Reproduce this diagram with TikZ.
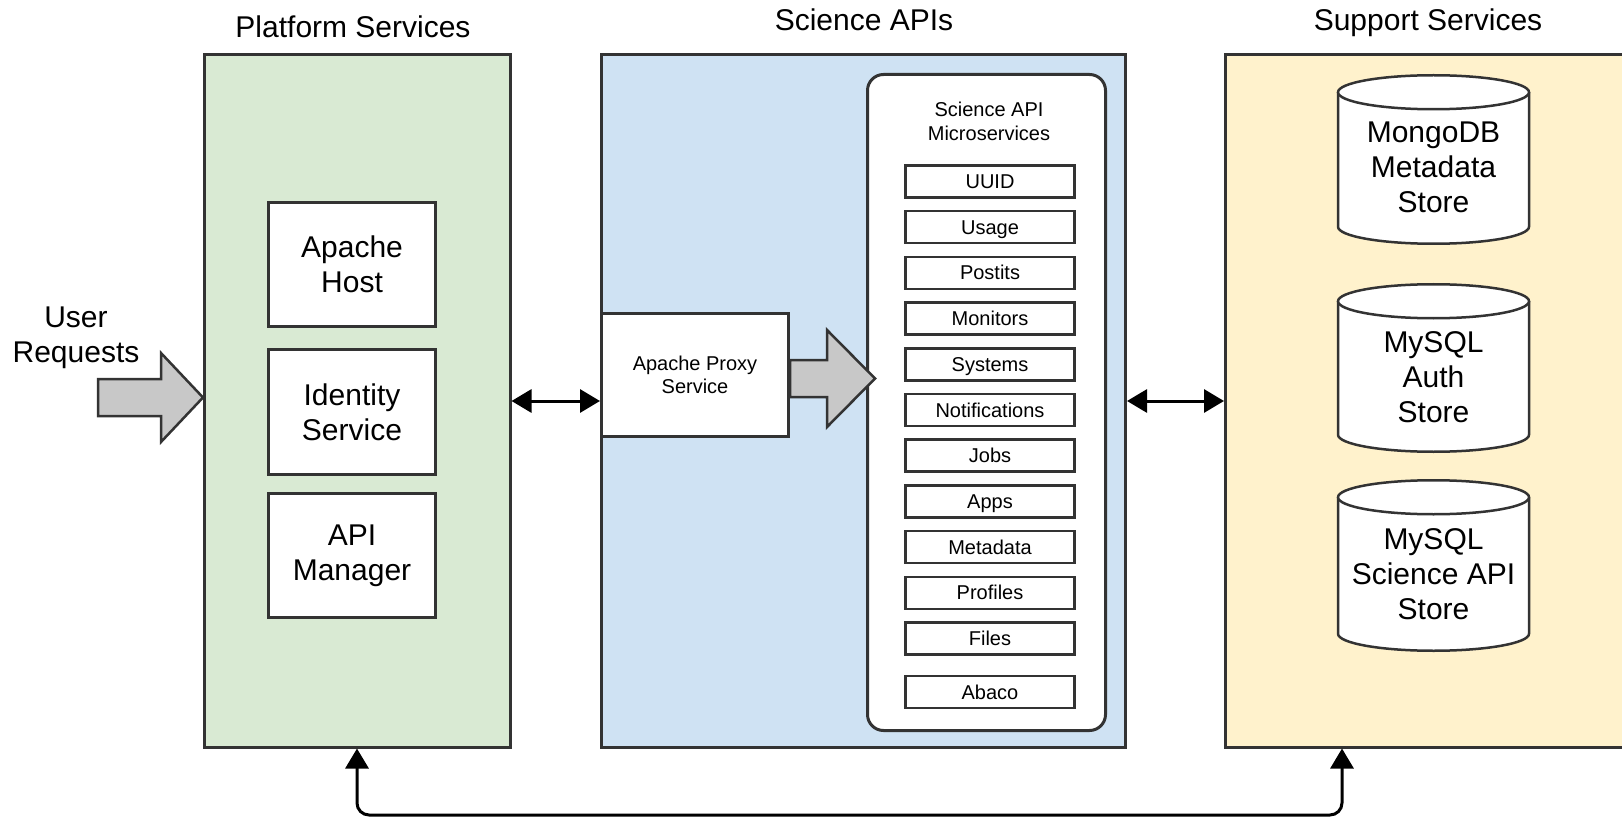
\documentclass[tikz,border=0pt]{standalone}
\usepackage{fontspec}
\setmainfont{Liberation Sans}
\usetikzlibrary{arrows.meta}
\definecolor{bd}{HTML}{333333}
\definecolor{gfill}{HTML}{D9EAD3}
\definecolor{bfill}{HTML}{CFE2F3}
\definecolor{yfill}{HTML}{FFF2CC}
\definecolor{afill}{HTML}{C8C8C8}
\newcommand\dbcyl[3]{%
  \draw[cyl] (#1-95.5,#2) -- (#1-95.5,#3) .. controls +(0,9.39) and +(-52.74,0) .. (#1,#3+17) .. controls +(52.74,0) and +(0,9.39) .. (#1+95.5,#3) -- (#1+95.5,#2);
  \draw[cyl] (#1,#2) ellipse [x radius=95.5, y radius=17];
}
\begin{document}
\begin{tikzpicture}[x=1pt,y=-1pt,
  big/.style={font=\fontsize{30}{35}\selectfont},
  small/.style={font=\fontsize{20}{23.5}\selectfont},
  panel/.style={draw=bd, line width=3pt, inner sep=0pt},
  inbox/.style={draw=bd, line width=3pt, fill=white, inner sep=0pt, align=center, big, minimum width=167pt},
  svc/.style={draw=bd, line width=2.5pt, fill=white, inner sep=0pt, minimum width=169pt, minimum height=32pt, text height=15pt, text depth=1pt, small},
  cyl/.style={draw=bd, line width=2.5pt, fill=white},
  garrow/.style={draw=bd, line width=2.5pt, fill=afill, line join=miter},
  conn/.style={line width=3pt, black, {Triangle[length=20pt,width=23pt]}-{Triangle[length=20pt,width=23pt]}},
]
\useasboundingbox (0,0) rectangle (1622,818);

% titles
\node[big, anchor=base] (t1) at (353,38) {Platform Services};
\node[big, anchor=base] (t2) at (864,31) {Science APIs};
\node[big, anchor=base] (t3) at (1428,31) {Support Services};

% panels
\node[panel, fill=gfill, minimum width=306pt, minimum height=692pt] (plat) at (357,401) {};
\node[panel, fill=bfill, minimum width=524pt, minimum height=692pt] (sci) at (863.5,401) {};
\node[panel, fill=yfill, minimum width=425pt, minimum height=692pt] (sup) at (1438,401) {};

% platform boxes
\node[inbox, minimum height=124pt] (host) at (352,264.5) {Apache\\Host};
\node[inbox, minimum height=125pt] (ident) at (352,412) {Identity\\Service};
\node[inbox, minimum height=124pt] (apim) at (352,555.5) {API\\Manager};

% user requests
\node[big, align=center] (user) at (76,338) {User\\Requests};
\draw[garrow] (98,379) -- (161,379) -- (161,353) -- (203,397.5) -- (161,442) -- (161,416) -- (98,416) -- cycle;

% science
\node[draw=bd, line width=3pt, fill=white, rounded corners=16pt, minimum width=238pt, minimum height=656pt] (micro) at (986.5,402.5) {};
\node[draw=bd, line width=3pt, fill=white, inner sep=0pt, minimum width=187pt, minimum height=123pt, small, align=center] (proxy) at (695,375) {Apache Proxy\\Service};
\draw[garrow] (790,360) -- (827,360) -- (827,330) -- (875,378.5) -- (827,427) -- (827,397) -- (790,397) -- cycle;
\node[small, align=center] (mtitle) at (989,121.5) {Science API\\Microservices};

\node[svc] (s1) at (990,181.5) {UUID};
\node[svc] (s2) at (990,227.2) {Usage};
\node[svc] (s3) at (990,272.9) {Postits};
\node[svc] (s4) at (990,318.6) {Monitors};
\node[svc] (s5) at (990,364.3) {Systems};
\node[svc] (s6) at (990,410) {Notifications};
\node[svc] (s7) at (990,455.7) {Jobs};
\node[svc] (s8) at (990,501.4) {Apps};
\node[svc] (s9) at (990,547.1) {Metadata};
\node[svc] (s10) at (990,592.8) {Profiles};
\node[svc] (s11) at (990,638.5) {Files};
\node[svc] (s12) at (990,692) {Abaco};

% support cylinders
\dbcyl{1433.5}{92.25}{226.75}
\dbcyl{1433.5}{301.25}{434.75}
\dbcyl{1433.5}{497.25}{633.75}
\node[big, align=center] (mongo) at (1433.5,167) {MongoDB\\Metadata\\Store};
\node[big, align=center] (auth) at (1433.5,377) {MySQL\\Auth\\Store};
\node[big, align=center] (scidb) at (1433.5,574) {MySQL\\Science API\\Store};

% connectors
\draw[conn] (plat.east) -- (sci.west);
\draw[conn] (sci.east) -- (sup.west);
\coordinate (b1) at (357,815);
\coordinate (b2) at (1342,815);
\draw[conn, rounded corners=12pt] (plat.south) -- (b1) -- (b2) -- (b2 |- sup.south);
\end{tikzpicture}
\end{document}
